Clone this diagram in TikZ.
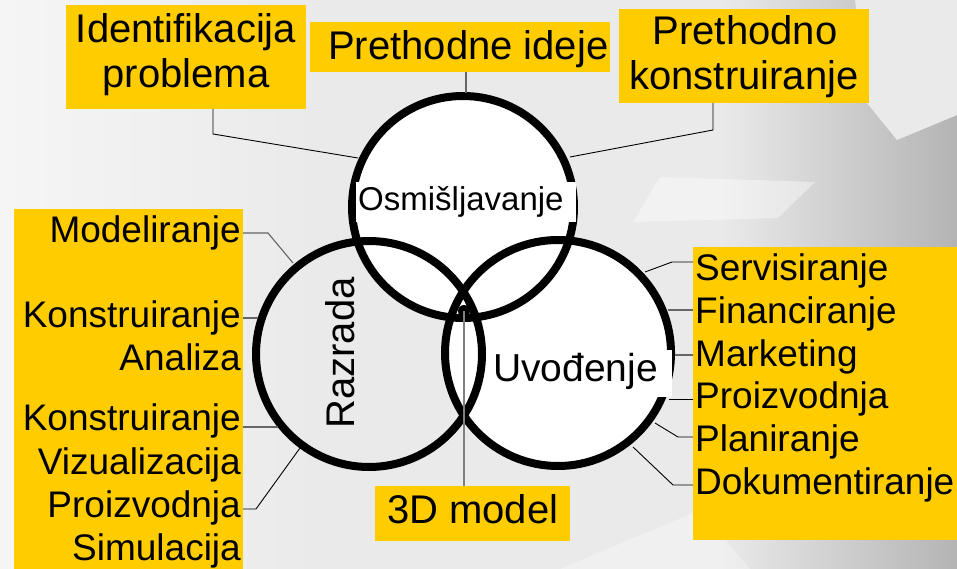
\documentclass[tikz,border=0pt]{standalone}
\usepackage{fontspec}
\setmainfont{Liberation Sans}
\definecolor{boxyellow}{HTML}{FFCC00}
\definecolor{bgbase}{RGB}{234,234,234}
\definecolor{bglight}{RGB}{245,245,245}
\definecolor{bgdark}{RGB}{180,180,180}
\begin{document}
\begin{tikzpicture}[x=1pt,y=-1pt,
  ybox/.style={fill=boxyellow, draw=none, inner sep=0pt, anchor=north west},
  wbox/.style={fill=white, draw=none, inner sep=0pt, anchor=north west},
  big/.style={inner sep=0pt, font=\fontsize{40}{46}\selectfont},
  lst/.style={inner sep=0pt, font=\fontsize{37}{42}\selectfont},
  ring/.style={line width=8pt},
  conn/.style={draw=black, line width=0.9pt},
  conng/.style={draw=black!60, line width=1.1pt}]
% background
\fill[bgbase] (0,0) rectangle (957,569);
\useasboundingbox (0,0) rectangle (957,569);
\shade[left color=bglight, right color=bgbase] (0,0) rectangle (320,569);
\shade[left color=bgbase, right color=bgdark] (720,0) rectangle (957,569);
\fill[bgbase] (855,0) -- (957,0) -- (957,115) -- (897,140) -- (867,103) -- cycle;
\fill[white, opacity=0.4] (660,177) -- (815,182) -- (778,218) -- (633,222) -- cycle;
\fill[white, opacity=0.3] (560,569) -- (700,510) -- (750,569) -- cycle;
% circles
\coordinate (T) at (463,207);
\coordinate (R) at (369,354);
\coordinate (U) at (558,353);
\fill[white] (T) circle (111pt);
\fill[white] (U) circle (113pt);
\draw[ring] (R) circle (113pt);
\draw[ring] (T) circle (111pt);
\draw[ring] (U) circle (113pt);
% circle labels
\node[wbox, minimum width=220pt, minimum height=40pt] (osmbox) at (356,182) {};
\node[inner sep=0pt, anchor=base west, font=\fontsize{33}{38}\selectfont] (osm) at (358,211) {Osmišljavanje};
\node[wbox, minimum width=183pt, minimum height=47pt] (uvobox) at (489,350) {};
\node[inner sep=0pt, anchor=base west, font=\fontsize{39}{45}\selectfont] (uvo) at (493,381) {Uvođenje};
\node[big, rotate=90, anchor=base] (raz) at (354,353) {Razrada};
% yellow boxes
\node[ybox, minimum width=240pt, minimum height=104pt] (idp) at (66,5) {};
\node[ybox, minimum width=300pt, minimum height=50pt] (pid) at (310,22) {};
\node[ybox, minimum width=250pt, minimum height=94pt] (pk) at (619,9) {};
\node[ybox, minimum width=229pt, minimum height=360pt] (lbox) at (14,209) {};
\node[ybox, minimum width=264pt, minimum height=293pt] (rbox) at (693,247) {};
\node[ybox, minimum width=195pt, minimum height=55pt] (d3) at (375,486) {};
% top texts
\node[big, anchor=base] (t1) at (186,43) {Identifikacija};
\node[big, anchor=base] (t2) at (186,88) {problema};
\node[big, anchor=base west] (t3) at (328,60) {Prethodne ideje};
\node[big, anchor=base] (t4) at (745,45) {Prethodno};
\node[big, anchor=base] (t5) at (744,90) {konstruiranje};
\node[big, anchor=base west] (t6) at (387,523) {3D model};
% left list
\node[lst, anchor=base east] (l1) at (241,242) {Modeliranje};
\node[lst, anchor=base east] (l2) at (241,327) {Konstruiranje};
\node[lst, anchor=base east] (l3) at (241,370) {Analiza};
\node[lst, anchor=base east] (l4) at (241,430) {Konstruiranje};
\node[lst, anchor=base east] (l5) at (241,474) {Vizualizacija};
\node[lst, anchor=base east] (l6) at (241,517) {Proizvodnja};
\node[lst, anchor=base east] (l7) at (241,560) {Simulacija};
% right list
\node[lst, anchor=base west] (r1) at (695,280) {Servisiranje};
\node[lst, anchor=base west] (r2) at (695,323) {Financiranje};
\node[lst, anchor=base west] (r3) at (695,366) {Marketing};
\node[lst, anchor=base west] (r4) at (695,408) {Proizvodnja};
\node[lst, anchor=base west] (r5) at (695,451) {Planiranje};
\node[lst, anchor=base west] (r6) at (695,494) {Dokumentiranje};
% connector end points
\coordinate (a1) at (213,109); \coordinate (a2) at (213,134); \coordinate (ca) at (358,158);
\coordinate (b1) at (466,72);  \coordinate (cb) at (466,93);
\coordinate (p1) at (713,103); \coordinate (p2) at (713,130); \coordinate (cp) at (570,157);
\coordinate (m1) at (243,233); \coordinate (m2) at (268,233); \coordinate (cm) at (293,263);
\coordinate (k1) at (243,318); \coordinate (ck) at (258,318);
\coordinate (v1) at (243,427); \coordinate (cv) at (278,427);
\coordinate (s1) at (243,509); \coordinate (s2) at (256,509); \coordinate (cs) at (300,448);
\coordinate (e1) at (693,262); \coordinate (e2) at (672,262); \coordinate (ce) at (645,272);
\coordinate (f1) at (693,310); \coordinate (cf) at (668,310);
\coordinate (g1) at (693,355); \coordinate (cg) at (675,355);
\coordinate (h1) at (693,399); \coordinate (ch) at (669,399);
\coordinate (i1) at (693,437); \coordinate (i2) at (678,437); \coordinate (ci) at (655,423);
\coordinate (j1) at (693,485); \coordinate (j2) at (673,485); \coordinate (cj) at (633,447);
% connectors
\draw[conn] (a1) -- (a2) -- (ca);
\draw[conng] (b1) -- (cb);
\draw[conn] (p1) -- (p2) -- (cp);
\draw[conng] (m1) -- (m2) -- (cm);
\draw[conng] (k1) -- (ck);
\draw[conng] (v1) -- (cv);
\draw[conn] (s1) -- (s2) -- (cs);
\draw[conn] (e1) -- (e2) -- (ce);
\draw[conng] (f1) -- (cf);
\draw[conng] (g1) -- (cg);
\draw[conn] (h1) -- (ch);
\draw[conn] (i1) -- (i2) -- (ci);
\draw[conn] (j1) -- (j2) -- (cj);
% centre dot and line to 3D model
\node[circle, fill=black, inner sep=0pt, minimum size=12pt] (dot) at (464,311) {};
\draw[draw=black!50, line width=1.6pt] (dot.center) -- (dot.center |- d3.north);
\end{tikzpicture}
\end{document}
